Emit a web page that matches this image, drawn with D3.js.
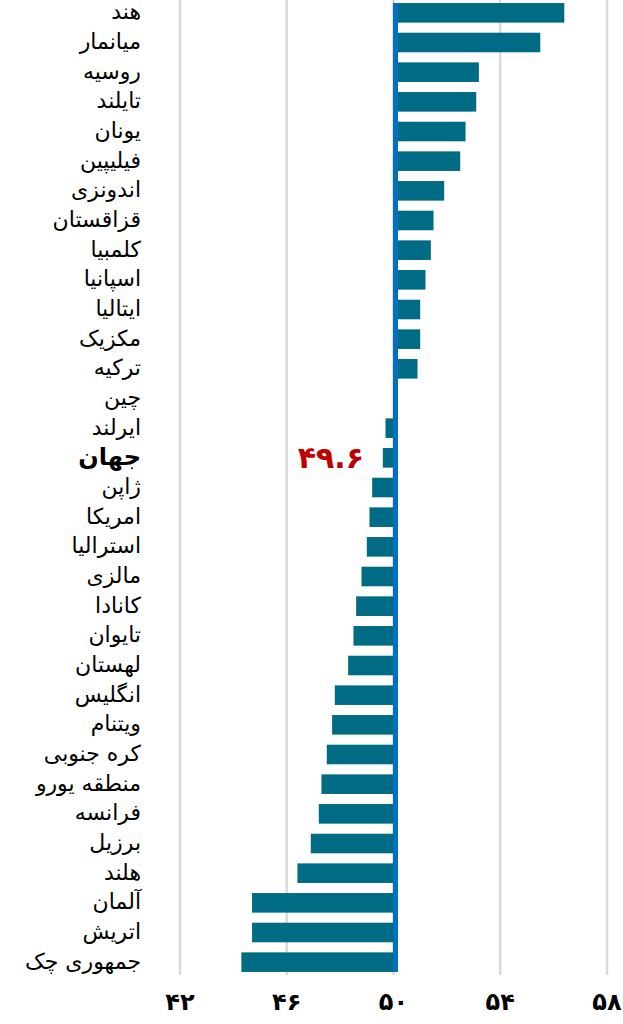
<!DOCTYPE html>
<html>
<head>
<meta charset="utf-8">
<script src="https://cdn.jsdelivr.net/npm/d3@7"></script>
<style>
  body { margin: 0; background: #fff; }
  svg { display: block; }
</style>
</head>
<body>
<div id="chart"></div>
<script>
let countries = [
    "هند", "میانمار", "روسیه", "تایلند", "یونان", "فیلیپین", "اندونزی",
    "قزاقستان", "کلمبیا", "اسپانیا", "ایتالیا", "مکزیک", "ترکیه", "چین",
    "ایرلند", "جهان", "ژاپن", "امریکا", "استرالیا", "مالزی", "کانادا",
    "تایوان", "لهستان", "انگلیس", "ویتنام", "کره جنوبی", "منطقه یورو",
    "فرانسه", "برزیل", "هلند", "آلمان", "اتریش", "جمهوری چک"
]

let pmiValues = [
    56.4, 55.5, 53.2, 53.1, 52.7, 52.5, 51.9,
    51.5, 51.4, 51.2, 51.0, 51.0, 50.9, 50.0,
    49.7, 49.6, 49.2, 49.1, 49.0, 48.8, 48.6,
    48.5, 48.3, 47.8, 47.7, 47.5, 47.3,
    47.2, 46.9, 46.4, 44.7, 44.7, 44.3
]

let xTicks = [42, 46, 50, 54, 58]
let baseline = 50
let highlight = "جهان"
let highlightLabel = "۴۹.۶"

let width = 623
let height = 1024

// latin digits -> persian digits
let persianDigits = "۰۱۲۳۴۵۶۷۸۹"
function toPersian(n) {
    return String(n).replace(/[0-9]/g, d => persianDigits[+d])
}

let data = countries.map((c, i) => ({name: c, value: pmiValues[i]}))

let svg = d3.select("#chart").append("svg")
    .attr("width", width)
    .attr("height", height)

let x = d3.scaleLinear()
    .domain([42, 58])
    .range([180, 607])

let y = d3.scaleBand()
    .domain(countries)
    .range([-2, 977])
    .paddingInner(0.34)
    .paddingOuter(0.17)

// grid lines
svg.append("g")
    .selectAll("line")
    .data(xTicks)
    .join("line")
    .attr("x1", d => x(d))
    .attr("x2", d => x(d))
    .attr("y1", 0)
    .attr("y2", 975)
    .attr("stroke", "#d9d9d9")
    .attr("stroke-width", 2.5)

// bars
svg.append("g")
    .selectAll("rect")
    .data(data.filter(d => d.value !== baseline))
    .join("rect")
    .attr("x", d => x(Math.min(d.value, baseline)))
    .attr("width", d => Math.abs(x(d.value) - x(baseline)))
    .attr("y", d => y(d.name))
    .attr("height", y.bandwidth())
    .attr("fill", "#006b84")

// baseline at 50
svg.append("line")
    .attr("x1", x(baseline) + 2)
    .attr("x2", x(baseline) + 2)
    .attr("y1", y(countries[0]))
    .attr("y2", y(countries[countries.length - 1]) + y.bandwidth())
    .attr("stroke", "#0070c0")
    .attr("stroke-width", 5)

// category labels
svg.append("g")
    .selectAll("text")
    .data(data)
    .join("text")
    .attr("x", 141)
    .attr("y", d => y(d.name) + y.bandwidth() / 2)
    .attr("dy", "0.3em")
    .attr("text-anchor", "end")
    .style("font-family", "DejaVu Sans, sans-serif")
    .style("font-weight", d => d.name === highlight ? "bold" : "normal")
    .style("font-size", d => d.name === highlight ? "24px" : "22px")
    .attr("fill", "#000")
    .text(d => d.name)

// world value
svg.append("text")
    .attr("x", 364)
    .attr("y", y(highlight) + y.bandwidth() / 2)
    .attr("dy", "0.35em")
    .attr("text-anchor", "end")
    .style("font-family", "DejaVu Sans, sans-serif")
    .style("font-size", "30px")
    .style("font-weight", "bold")
    .attr("fill", "#c00000")
    .text(highlightLabel)

// x axis tick labels
svg.append("g")
    .selectAll("text")
    .data(xTicks)
    .join("text")
    .attr("x", d => x(d))
    .attr("y", 1002)
    .attr("dy", "0.35em")
    .attr("text-anchor", "middle")
    .style("font-family", "DejaVu Sans, sans-serif")
    .style("font-size", "24px")
    .style("font-weight", "bold")
    .attr("fill", "#000")
    .text(d => toPersian(d))
</script>
</body>
</html>
